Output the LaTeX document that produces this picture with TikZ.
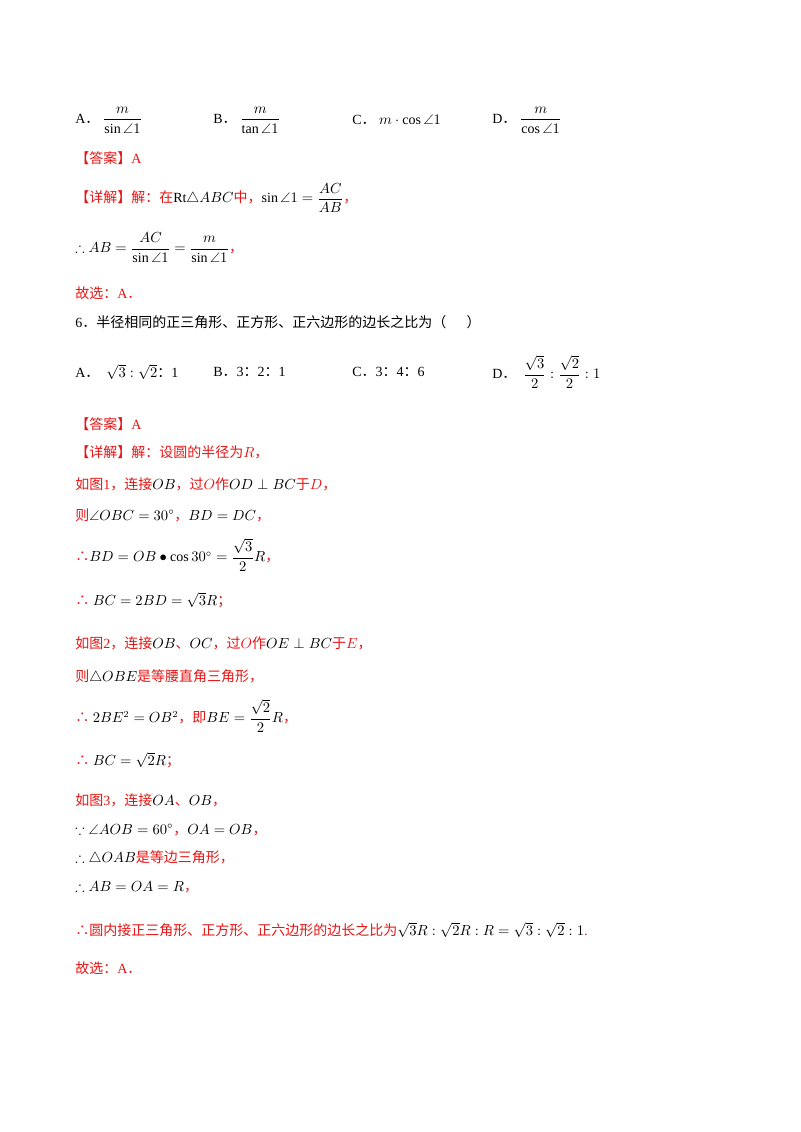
\documentclass[tikz,border=0pt]{standalone}
\usepackage{amsmath,amssymb}
\usepackage{fontspec}
\setmainfont{Liberation Serif}
\newfontfamily\cjk{Noto Sans CJK SC}
\definecolor{ansred}{RGB}{230,20,20}
\newcommand\hz[1]{{\cjk #1}}
\newcommand\hr[1]{{\color{ansred}\cjk #1}}
\begin{document}
\begin{tikzpicture}[x=0.75pt,y=-0.75pt,every node/.style={anchor=west,inner sep=0pt,font=\fontsize{10.5}{12}\selectfont}]
\useasboundingbox (0,0) rectangle (800,1132);
\node (a1) at (75,120) {A\hz{．}\ $\dfrac{m}{\sin\angle 1}$};
\node (b1) at (213,120) {B\hz{．}\ $\dfrac{m}{\tan\angle 1}$};
\node (c1) at (352,120) {C\hz{．}\ $m\cdot\cos\angle 1$};
\node (d1) at (492,120) {D\hz{．}\ $\dfrac{m}{\cos\angle 1}$};
\node (ans1) at (75,158) {\hr{【答案】}\textcolor{ansred}{A}};
\node (det1) at (75,198) {\hr{【详解】解：在}$\mathrm{Rt}\triangle ABC$\hr{中，}$\sin\angle 1=\dfrac{AC}{AB}$\hr{，}};
\node (l3) at (75,248) {$\therefore AB=\dfrac{AC}{\sin\angle 1}=\dfrac{m}{\sin\angle 1}$\hr{，}};
\node (l4) at (75,293) {\hr{故选：}\textcolor{ansred}{A\hz{．}}};
\node (q6) at (75,322) {6\hz{．半径相同的正三角形、正方形、正六边形的边长之比为（\quad\ \ ）}};
\node (a2) at (75,372) {A\hz{．}\ \ $\sqrt{3}:\sqrt{2}$\hz{：}1};
\node (b2) at (213,372) {B\hz{．}3\hz{：}2\hz{：}1};
\node (c2) at (352,372) {C\hz{．}3\hz{：}4\hz{：}6};
\node (d2) at (492,372) {D\hz{．}\ \ $\dfrac{\sqrt{3}}{2}:\dfrac{\sqrt{2}}{2}:1$};
\node (ans2) at (75,424) {\hr{【答案】}\textcolor{ansred}{A}};
\node (s1) at (75,452) {\hr{【详解】解：设圆的半径为}\textcolor{ansred}{$R$}\hr{，}};
\node (s2) at (75,484) {\hr{如图}\textcolor{ansred}{1}\hr{，连接}$OB$\hr{，过}\textcolor{ansred}{$O$}\hr{作}$OD\perp BC$\hr{于}\textcolor{ansred}{$D$}\hr{，}};
\node (s3) at (75,515) {\hr{则}$\angle OBC=30^\circ$\hr{，}$BD=DC$\hr{，}};
\node (s4) at (75,555) {\hr{∴}$BD=OB\bullet\cos30^\circ=\dfrac{\sqrt{3}}{2}R$\hr{，}};
\node (s5) at (75,600) {\hr{∴}\ $BC=2BD=\sqrt{3}R$\hr{；}};
\node (s6) at (75,643) {\hr{如图}\textcolor{ansred}{2}\hr{，连接}$OB$\hr{、}$OC$\hr{，过}\textcolor{ansred}{$O$}\hr{作}$OE\perp BC$\hr{于}\textcolor{ansred}{$E$}\hr{，}};
\node (s7) at (75,677) {\hr{则}$\triangle OBE$\hr{是等腰直角三角形，}};
\node (s8) at (75,716) {\hr{∴}\ $2BE^2=OB^2$\hr{，即}$BE=\dfrac{\sqrt{2}}{2}R$\hr{，}};
\node (s9) at (75,760) {\hr{∴}\ $BC=\sqrt{2}R$\hr{；}};
\node (s10) at (75,800) {\hr{如图}\textcolor{ansred}{3}\hr{，连接}$OA$\hr{、}$OB$\hr{，}};
\node (s11) at (75,830) {$\because\angle AOB=60^\circ$\hr{，}$OA=OB$\hr{，}};
\node (s12) at (75,858) {$\therefore\triangle OAB$\hr{是等边三角形，}};
\node (s13) at (75,887) {$\therefore AB=OA=R$\hr{，}};
\node (s14) at (75,930) {\hr{∴圆内接正三角形、正方形、正六边形的边长之比为}$\sqrt{3}R:\sqrt{2}R:R=\sqrt{3}:\sqrt{2}:1$\textcolor{ansred}{.}};
\node (s15) at (75,968) {\hr{故选：}\textcolor{ansred}{A\hz{．}}};
\end{tikzpicture}
\end{document}
